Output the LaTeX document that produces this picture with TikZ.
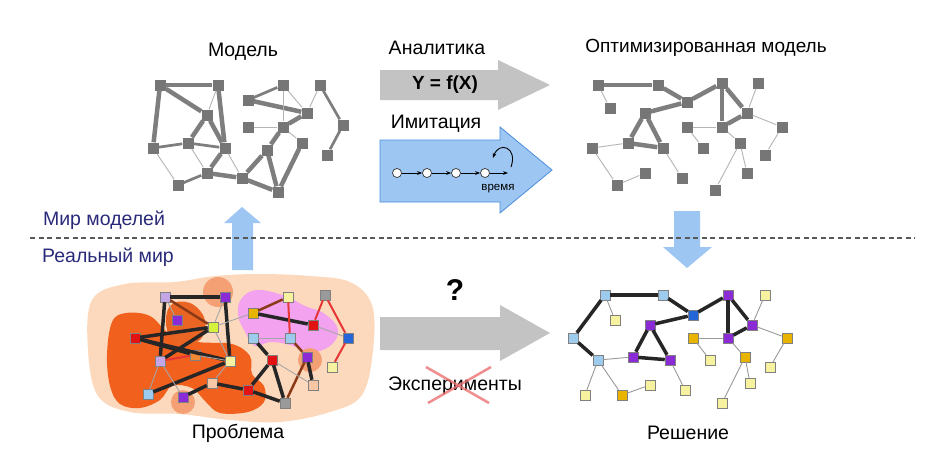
\documentclass[tikz,border=0pt]{standalone}
\usepackage{fontspec}
\setmainfont{Liberation Sans}
\usetikzlibrary{arrows.meta}
\definecolor{nodegray}{HTML}{767676}
\definecolor{edgegray}{HTML}{7E7E7E}
\definecolor{thingray}{HTML}{B4B4B4}
\definecolor{arrgray}{HTML}{C3C3C3}
\definecolor{skyfill}{HTML}{9DC6F2}
\definecolor{skyline}{HTML}{4A8EDC}
\definecolor{navytext}{HTML}{2A2A7A}
\definecolor{ly}{HTML}{F6F2A0}
\definecolor{gd}{HTML}{E8B400}
\definecolor{lb}{HTML}{9CCBEE}
\definecolor{bl}{HTML}{2466D8}
\definecolor{pu}{HTML}{8A2BD6}
\definecolor{lv}{HTML}{C4A6E6}
\definecolor{rd}{HTML}{E01212}
\definecolor{yg}{HTML}{D6F23A}
\definecolor{pc}{HTML}{F7C6A4}
\definecolor{og}{HTML}{F08A36}
\definecolor{gy}{HTML}{9A9A9A}
\definecolor{peachbg}{HTML}{FCD9BC}
\definecolor{orangebg}{HTML}{F2601E}
\definecolor{lightorange}{HTML}{F4A074}
\definecolor{pinkbg}{HTML}{F2A2EE}
\definecolor{brownline}{HTML}{8A3A16}
\tikzstyle{gn} = [rectangle, fill=nodegray, minimum size=11pt, inner sep=0pt]
\tikzstyle{thk} = [line width=4.5pt, draw=edgegray]
\tikzstyle{mid} = [line width=2.7pt, draw=edgegray]
\tikzstyle{thn} = [line width=0.9pt, draw=thingray]
\tikzstyle{cn} = [rectangle, draw=gray, line width=0.5pt, minimum size=10pt, inner sep=0pt]
\tikzstyle{bk} = [line width=3.5pt, draw=black!85]
\tikzstyle{rl} = [line width=2pt, draw=rd!85]
\tikzstyle{br} = [line width=2.5pt, draw=brownline]
\tikzstyle{lbl} = [font=\fontsize{19.5}{22}\selectfont]
\tikzstyle{dot} = [circle, draw=black!80, fill=white, minimum size=9pt, inner sep=0pt, line width=0.7pt]
\tikzstyle{arrow} = [-{Stealth[length=5pt]}, line width=0.8pt]

\begin{document}
\begin{tikzpicture}[x=1pt, y=-1pt]
\useasboundingbox (0,0) rectangle (940,474);

\fill[white] (0,0) rectangle (940,474);

\foreach \n/\x/\y in {1/160/85, 2/218/85, 3/207/115, 4/188/143, 5/153/148, 6/225/148, 7/178/185,
  8/207/173, 9/242/178, 10/267/150, 11/278/192, 12/302/143, 13/248/100, 14/283/85,
  15/307/113, 16/248/127, 17/283/127, 18/320/85, 19/343/125, 20/327/155}
  \node[gn] (a\n) at (\x,\y) {};
\foreach \a/\b in {1/2, 1/5, 1/3, 2/6, 3/4, 3/6, 8/9, 6/8, 9/10, 9/11, 10/11, 11/12, 17/10, 13/15, 15/17}
  \draw[thk] (a\a) -- (a\b);
\foreach \a/\b in {4/5, 4/6, 7/8, 13/14, 18/19, 19/20}
  \draw[mid] (a\a) -- (a\b);
\foreach \a/\b in {2/3, 5/7, 4/8, 6/9, 12/17, 14/17, 14/15, 16/17, 18/15}
  \draw[thn] (a\a) -- (a\b);
\node[lbl] (model) at (243,52) {Модель};

\foreach \n/\x/\y in {1/598/85, 2/610/108, 3/658/85, 4/687/102, 5/722/83, 6/758/83, 7/747/113,
  8/722/127, 9/687/127, 10/703/148, 11/645/113, 12/628/143, 13/663/148, 14/592/148,
  15/617/185, 16/645/173, 17/682/178, 18/740/143, 19/782/127, 20/765/155, 21/747/173, 22/715/190}
  \node[gn] (b\n) at (\x,\y) {};
\foreach \a/\b in {1/3, 3/4, 4/5, 4/11, 5/8, 5/7, 7/8, 11/12, 11/13, 12/13}
  \draw[thk] (b\a) -- (b\b);
\foreach \a/\b in {1/2, 7/6, 7/19, 9/8, 9/10, 12/14, 14/15, 15/16, 13/17, 8/18, 18/22, 18/21, 19/20}
  \draw[thn] (b\a) -- (b\b);
\node[lbl, font=\fontsize{19}{22}\selectfont] (optmodel) at (706,48) {Оптимизированная модель};

\fill[arrgray] (380,70) -- (498,70) -- (498,60) -- (550,85) -- (498,110) -- (498,100) -- (380,100) -- cycle;
\node[lbl] (analytics) at (437,48) {Аналитика};
\node[font=\fontsize{19}{22}\selectfont\bfseries] (formula) at (445,85) {Y = f(X)};

\filldraw[fill=skyfill, draw=skyline, line width=0.8pt] (380,140) -- (500,140) -- (500,127) -- (552,170) -- (500,213) -- (500,202) -- (380,202) -- cycle;
\node[lbl] (imitation) at (436,124) {Имитация};
\foreach \n/\x in {1/397, 2/427, 3/456, 4/485}
  \node[dot] (c\n) at (\x,173) {};
\coordinate (cend) at (508,173);
\draw[arrow] (c1) -- (c2);
\draw[arrow] (c2) -- (c3);
\draw[arrow] (c3) -- (c4);
\draw[arrow] (c4) -- (cend);
\coordinate (loopa) at (511,167);
\coordinate (loopb) at (493,158);
\draw[-{Stealth[length=5pt]}, line width=0.9pt] (loopa) .. controls (518,147) and (499,141) .. (loopb);
\node[font=\fontsize{11.5}{12}\selectfont] (time) at (498,189) {время};

\fill[skyfill] (232,270) -- (232,223) -- (224,223) -- (242,207) -- (261,223) -- (253,223) -- (253,270) -- cycle;
\fill[skyfill] (674,211) -- (700,211) -- (700,247) -- (712,247) -- (687,268) -- (663,247) -- (674,247) -- cycle;

\coordinate (dl) at (30,238);
\coordinate (dr) at (915,238);
\draw[black!65, line width=1.6pt, dash pattern=on 5pt off 3.5pt] (dl) -- (dr);
\node[lbl, text=navytext] (modelworld) at (104,220) {Мир моделей};
\node[lbl, text=navytext] (realworld) at (108,257) {Реальный мир};

\fill[arrgray] (380,317) -- (500,317) -- (500,305) -- (550,333) -- (500,361) -- (500,350) -- (380,350) -- cycle;
\node[font=\fontsize{30}{32}\selectfont\bfseries] (question) at (455,290) {?};
\node[lbl] (experiments) at (455,386) {Эксперименты};
\coordinate (xa) at (426,367);
\coordinate (xb) at (489,403);
\coordinate (xc) at (428,403);
\coordinate (xd) at (491,367);
\draw[rd!60, line width=2.5pt, opacity=0.8] (xa) -- (xb);
\draw[rd!60, line width=2.5pt, opacity=0.8] (xc) -- (xd);

\fill[peachbg] plot[smooth cycle, tension=0.6] coordinates {(92,300) (125,284) (175,282) (215,276) (260,274) (310,276) (350,282) (372,305) (373,350) (362,395) (330,412) (280,422) (230,420) (180,414) (130,412) (98,396) (88,350)};
\fill[pinkbg] plot[smooth cycle, tension=0.7] coordinates {(242,298) (258,290) (285,296) (305,306) (325,314) (338,330) (330,346) (310,352) (290,345) (270,342) (255,346) (244,330) (238,314)};
\fill[orangebg] plot[smooth cycle, tension=0.6] coordinates {(112,322) (126,313) (150,316) (170,334) (198,342) (232,344) (250,356) (252,374) (264,386) (264,402) (248,412) (220,413) (206,402) (192,388) (172,386) (160,400) (140,408) (120,404) (110,386) (107,355)};
\fill[orangebg!85!brown] plot[smooth cycle, tension=0.7] coordinates {(170,306) (190,303) (205,320) (200,340) (180,345) (167,330)};
\fill[lightorange] (218,292) circle (15);
\fill[lightorange] (183,402) circle (12);
\fill[lightorange] (310,360) circle (12);

\foreach \n/\x/\y/\c in {1/165/297/lv, 2/225/297/pu, 3/177/320/pu, 4/135/338/rd, 5/213/327/yg, 6/160/361/lv,
  7/195/355/og, 8/230/361/ly, 9/148/394/lb, 10/183/397/pu, 11/212/383/pc, 12/253/313/gd,
  13/288/297/ly, 14/325/295/gy, 15/313/325/rd, 16/253/338/lb, 17/290/338/lb, 18/348/338/bl,
  19/272/360/rd, 20/307/357/pu, 21/332/367/ly, 22/248/390/rd, 23/313/385/pc, 24/285/403/gy}
  \node[cn, fill=\c] (d\n) at (\x,\y) {};
\foreach \a/\b in {1/2, 1/6, 2/8, 4/5, 4/8, 6/5, 9/8, 10/11, 11/22, 12/15, 16/19, 19/22, 19/24, 22/24, 20/23, 4/7}
  \draw[bk] (d\a) -- (d\b);
\foreach \a/\b in {13/17, 14/15, 14/18, 18/21, 6/7}
  \draw[rl] (d\a) -- (d\b);
\foreach \a/\b in {1/5, 20/24, 12/13, 17/20}
  \draw[br] (d\a) -- (d\b);
\foreach \a/\b in {2/5, 5/12, 15/18, 16/17, 9/6, 10/6, 11/8, 5/8, 19/23, 3/1, 7/8}
  \draw[thn, draw=gray!70] (d\a) -- (d\b);
\node[lbl] (problem) at (238,433) {Проблема};

\foreach \n/\x/\y/\c in {1/605/295/lb, 2/663/295/lb, 3/615/320/ly, 4/573/338/lb, 5/598/360/lb, 6/585/395/ly,
  7/622/395/gd, 8/650/385/ly, 9/693/315/bl, 10/650/325/pu, 11/633/357/pu, 12/670/360/pu,
  13/685/390/ly, 14/728/295/pu, 15/765/295/ly, 16/752/325/pu, 17/728/338/pu, 18/693/338/gd,
  19/710/360/ly, 20/787/338/gd, 21/770/367/ly, 22/745/357/gd, 23/750/383/ly, 24/722/403/ly}
  \node[cn, fill=\c] (s\n) at (\x,\y) {};
\foreach \a/\b in {1/2, 1/4, 4/5, 2/9, 9/10, 9/14, 10/11, 10/12, 11/12, 14/17, 14/16, 16/17}
  \draw[bk] (s\a) -- (s\b);
\foreach \a/\b in {1/3, 5/11, 5/6, 5/7, 7/8, 12/13, 16/15, 16/20, 17/18, 18/19, 17/22, 22/23, 22/24, 20/21}
  \draw[thn, draw=gray!80] (s\a) -- (s\b);
\node[lbl] (solution) at (688,433) {Решение};
\end{tikzpicture}
\end{document}
